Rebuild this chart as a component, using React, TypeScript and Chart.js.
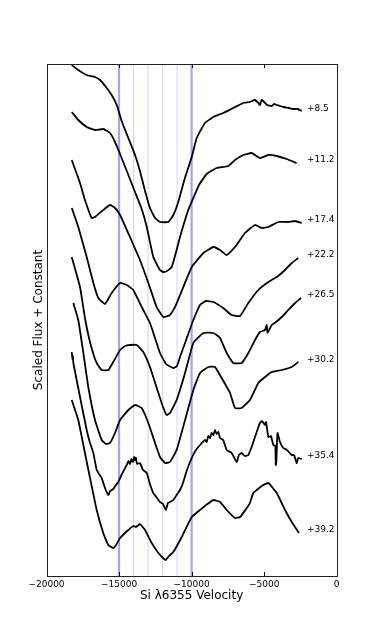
import React, { useEffect, useRef } from 'react';
import { Chart, registerables } from 'chart.js';

Chart.register(...registerables);

// Axis ticks and reference velocities (km/s)
const velocityTicks = [-20000, -15000, -10000, -5000, 0];
const markerVelocities = [-15000, -14000, -13000, -12000, -11000, -10000];
const markerThick = [true, false, false, false, false, true];

// Phase labels and where they sit (velocity, scaled flux)
const phaseLabels = ['+8.5', '+11.2', '+17.4', '+22.2', '+26.5', '+30.2', '+35.4', '+39.2'];
const phaseLabelFlux = [4.67, 4.16, 3.56, 3.21, 2.81, 2.16, 1.2, 0.46];
const phaseLabelVelocity = -2050;

// Spectra: velocity (km/s) and scaled flux + constant
const vel_8_5 = [-18260, -17810, -17230, -16660, -16310, -15850, -15510, -15160, -14820, -14360, -13900, -13560, -13210, -12870, -12520, -12180, -11610, -11260, -10920, -10460, -9990, -9650, -9080, -8500, -7820, -7130, -6440, -6000, -5630, -5400, -5290, -5180, -5060, -4800, -4480, -4300, -4130, -3900, -3680, -3300, -2990, -2700, -2410];
const flux_8_5 = [5.11, 5.06, 5.01, 4.99, 4.96, 4.88, 4.81, 4.71, 4.55, 4.38, 4.21, 4.05, 3.85, 3.68, 3.58, 3.54, 3.54, 3.61, 3.74, 3.98, 4.19, 4.38, 4.53, 4.59, 4.63, 4.68, 4.73, 4.74, 4.76, 4.73, 4.71, 4.76, 4.75, 4.71, 4.7, 4.72, 4.71, 4.7, 4.69, 4.68, 4.67, 4.67, 4.65];

const vel_11_2 = [-18260, -17810, -17230, -16660, -16090, -15620, -15280, -14820, -14360, -13900, -13440, -13090, -12640, -12180, -11950, -11690, -11370, -11070, -10800, -10230, -9880, -9490, -8960, -8270, -7470, -7010, -6440, -5860, -5290, -4710, -4130, -3450, -2760];
const flux_11_2 = [4.64, 4.56, 4.49, 4.46, 4.47, 4.43, 4.34, 4.18, 4.01, 3.84, 3.67, 3.49, 3.19, 3.06, 3.04, 3.05, 3.09, 3.24, 3.39, 3.66, 3.78, 3.91, 4.02, 4.08, 4.1, 4.16, 4.21, 4.23, 4.18, 4.21, 4.2, 4.17, 4.13];

const vel_17_4 = [-18260, -17690, -17350, -16890, -16660, -16090, -15620, -15280, -14930, -14250, -13560, -12980, -12410, -11950, -11490, -11140, -10570, -9990, -9190, -8500, -8040, -7580, -7010, -6320, -5630, -5170, -4710, -4020, -3340, -2870, -2410];
const flux_17_4 = [4.16, 3.93, 3.76, 3.58, 3.59, 3.66, 3.71, 3.68, 3.61, 3.39, 3.16, 2.93, 2.69, 2.59, 2.61, 2.69, 2.89, 3.09, 3.23, 3.29, 3.26, 3.21, 3.29, 3.43, 3.51, 3.48, 3.49, 3.54, 3.54, 3.55, 3.53];

const vel_22_2 = [-18260, -17810, -17230, -16770, -16430, -15970, -15510, -14930, -14470, -14020, -13440, -12870, -12520, -12180, -11760, -11260, -11010, -10800, -10380, -9880, -9420, -9010, -8500, -7820, -7240, -6660, -6090, -5400, -4710, -4130, -3560, -3100, -2650];
const flux_22_2 = [3.68, 3.49, 3.19, 2.93, 2.78, 2.72, 2.83, 2.93, 2.91, 2.86, 2.69, 2.53, 2.38, 2.23, 2.12, 2.08, 2.1, 2.19, 2.36, 2.56, 2.71, 2.75, 2.74, 2.68, 2.61, 2.6, 2.73, 2.86, 2.94, 2.99, 3.06, 3.13, 3.18];

const vel_26_5 = [-18260, -17690, -17350, -17070, -16770, -16540, -16200, -15740, -15400, -14930, -14590, -14250, -13780, -13330, -12870, -12290, -11970, -11720, -11490, -11030, -10450, -9880, -9190, -8500, -8040, -7580, -7130, -6550, -6090, -5630, -5290, -4940, -4820, -4770, -4480, -4180, -3790, -3340, -2870, -2460];
const flux_26_5 = [3.19, 2.89, 2.58, 2.38, 2.22, 2.13, 2.06, 2.06, 2.14, 2.26, 2.3, 2.31, 2.31, 2.24, 2.09, 1.83, 1.69, 1.61, 1.63, 1.76, 2.03, 2.33, 2.43, 2.43, 2.38, 2.23, 2.13, 2.13, 2.23, 2.36, 2.44, 2.46, 2.51, 2.43, 2.51, 2.54, 2.59, 2.66, 2.73, 2.78];

const vel_30_2 = [-18150, -17810, -17460, -17120, -16660, -16200, -15900, -15620, -15280, -14930, -14360, -13900, -13440, -12980, -12520, -12180, -11830, -11490, -11030, -10450, -9880, -9420, -8850, -8390, -7930, -7350, -7010, -6550, -5980, -5400, -4940, -4480, -3790, -3100, -2650];
const flux_30_2 = [2.73, 2.56, 2.23, 1.89, 1.56, 1.36, 1.32, 1.33, 1.43, 1.56, 1.66, 1.71, 1.68, 1.53, 1.33, 1.19, 1.13, 1.14, 1.26, 1.56, 1.86, 2.03, 2.09, 2.09, 1.98, 1.83, 1.68, 1.68, 1.76, 1.93, 1.99, 2.04, 2.06, 2.09, 2.14];

const vel_35_4 = [-18260, -18210, -18180, -18150, -17690, -17230, -17000, -16770, -16540, -16200, -15970, -15740, -15620, -15400, -15210, -15050, -14800, -14470, -14360, -14250, -14150, -14040, -13950, -13900, -13830, -13760, -13560, -13350, -13090, -12870, -12640, -12380, -12180, -11970, -11780, -11630, -11490, -11260, -11030, -10800, -10570, -10320, -9990, -9700, -9420, -9080, -8960, -8850, -8730, -8620, -8500, -8390, -8270, -8160, -8040, -7820, -7580, -7240, -6890, -6740, -6550, -6320, -6090, -5840, -5630, -5420, -5290, -5150, -4940, -4870, -4710, -4530, -4370, -4230, -4200, -4160, -4110, -4070, -3910, -3680, -3430, -3100, -2940, -2760, -2650, -2410];
const flux_35_4 = [2.24, 2.17, 2.2, 2.13, 1.79, 1.46, 1.33, 1.23, 1.06, 0.98, 0.88, 0.81, 0.85, 0.87, 0.91, 0.94, 1.02, 1.11, 1.15, 1.12, 1.17, 1.14, 1.19, 1.16, 1.18, 1.12, 1.13, 1.06, 1.03, 0.92, 0.83, 0.78, 0.74, 0.72, 0.66, 0.73, 0.74, 0.76, 0.81, 0.86, 0.94, 1.06, 1.18, 1.26, 1.31, 1.36, 1.34, 1.4, 1.38, 1.43, 1.41, 1.46, 1.42, 1.44, 1.38, 1.36, 1.26, 1.23, 1.14, 1.21, 1.23, 1.2, 1.21, 1.3, 1.39, 1.48, 1.53, 1.55, 1.51, 1.54, 1.39, 1.4, 1.31, 1.3, 1.11, 1.14, 1.36, 1.43, 1.34, 1.28, 1.26, 1.21, 1.21, 1.13, 1.18, 1.17];

const vel_39_2 = [-18260, -17810, -17350, -17000, -16540, -16090, -15740, -15400, -15210, -14930, -14660, -14360, -14020, -13830, -13560, -13210, -12750, -12290, -12040, -11790, -11560, -11260, -10680, -9990, -9420, -9000, -8500, -8040, -7580, -7010, -6660, -6200, -5980, -5750, -5510, -5060, -4710, -4460, -4130, -3560, -3100, -2600];
const flux_39_2 = [1.76, 1.56, 1.23, 0.98, 0.66, 0.43, 0.31, 0.28, 0.31, 0.38, 0.42, 0.46, 0.5, 0.49, 0.52, 0.46, 0.33, 0.23, 0.19, 0.16, 0.2, 0.24, 0.39, 0.59, 0.66, 0.71, 0.76, 0.74, 0.66, 0.58, 0.59, 0.68, 0.73, 0.83, 0.86, 0.91, 0.93, 0.89, 0.83, 0.66, 0.54, 0.43];

const spectraVel = [vel_8_5, vel_11_2, vel_17_4, vel_22_2, vel_26_5, vel_30_2, vel_35_4, vel_39_2];
const spectraFlux = [flux_8_5, flux_11_2, flux_17_4, flux_22_2, flux_26_5, flux_30_2, flux_35_4, flux_39_2];

const FLUX_MIN = 0;
const FLUX_MAX = 5.12;
const FONT = '"DejaVu Sans", sans-serif';

const annotatePlugin = {
  id: 'annotate',
  afterDatasetsDraw(chart: any) {
    const { ctx, chartArea: a, scales } = chart;
    const x = scales.x;
    const y = scales.y;
    ctx.save();
    ctx.font = `9px ${FONT}`;
    ctx.fillStyle = '#000';
    ctx.textAlign = 'left';
    ctx.textBaseline = 'middle';
    phaseLabels.forEach((t, i) => {
      ctx.fillText(t, x.getPixelForValue(phaseLabelVelocity), y.getPixelForValue(phaseLabelFlux[i]));
    });
    ctx.strokeStyle = '#000';
    ctx.lineWidth = 1;
    ctx.beginPath();
    x.ticks.forEach((t: any) => {
      const px = Math.round(x.getPixelForValue(t.value)) + 0.5;
      ctx.moveTo(px, a.top);
      ctx.lineTo(px, a.top + 4);
      ctx.moveTo(px, a.bottom);
      ctx.lineTo(px, a.bottom - 4);
    });
    ctx.stroke();
    ctx.strokeStyle = '#222';
    ctx.strokeRect(Math.round(a.left) + 0.5, Math.round(a.top) + 0.5, Math.round(a.width), Math.round(a.height));
    ctx.restore();
  },
};

export default function App() {
  const ref = useRef<HTMLCanvasElement | null>(null);
  useEffect(() => {
    if (!ref.current) return;
    const markerSets = markerVelocities.map((v, i) => ({
      label: 'v' + v,
      data: [{ x: v, y: FLUX_MIN }, { x: v, y: FLUX_MAX }],
      borderColor: markerThick[i] ? '#a3a3ff' : '#d2d2ff',
      borderWidth: markerThick[i] ? 2.2 : 1,
      pointRadius: 0,
      order: 2,
    }));
    const spectraSets = spectraVel.map((vel, k) => ({
      label: phaseLabels[k],
      data: vel.map((v, i) => ({ x: v, y: spectraFlux[k][i] })),
      borderColor: '#000',
      borderWidth: 1.8,
      pointRadius: 0,
      tension: 0.12,
      order: 1,
    }));
    const chart = new Chart(ref.current, {
      type: 'line',
      data: { datasets: [...spectraSets, ...markerSets] as any },
      options: {
        animation: false,
        responsive: false,
        maintainAspectRatio: false,
        layout: { padding: { left: 31.8, right: 37.3, top: 64, bottom: 37.8 } },
        plugins: { legend: { display: false }, tooltip: { enabled: false } },
        scales: {
          x: {
            type: 'linear',
            min: -20000,
            max: 0,
            afterBuildTicks: (s: any) => {
              s.ticks = velocityTicks.map((v) => ({ value: v }));
            },
            afterFit: (s: any) => {
              s.height = 27.2;
            },
            grid: { display: false, drawTicks: false },
            border: { display: false },
            ticks: {
              color: '#000',
              padding: 3,
              maxRotation: 0,
              font: { family: FONT, size: 9 },
              callback: (v: any) => (v < 0 ? '\u2212' + Math.abs(v) : String(v)),
            },
            title: {
              display: true,
              text: 'Si \u03bb6355 Velocity',
              color: '#000',
              font: { family: FONT, size: 12 },
              padding: 0,
            },
          },
          y: {
            type: 'linear',
            min: FLUX_MIN,
            max: FLUX_MAX,
            afterFit: (s: any) => {
              s.width = 14.7;
            },
            grid: { display: false, drawTicks: false },
            border: { display: false },
            ticks: { display: false },
            title: {
              display: true,
              text: 'Scaled Flux + Constant',
              color: '#000',
              font: { family: FONT, size: 12 },
              padding: 0,
            },
          },
        },
      },
      plugins: [annotatePlugin],
    });
    return () => chart.destroy();
  }, []);
  return (
    <div style={{ position: 'fixed', left: 0, top: 0, width: 374, height: 641, background: '#fff' }}>
      <canvas ref={ref} width={374} height={641} style={{ display: 'block' }} />
    </div>
  );
}
